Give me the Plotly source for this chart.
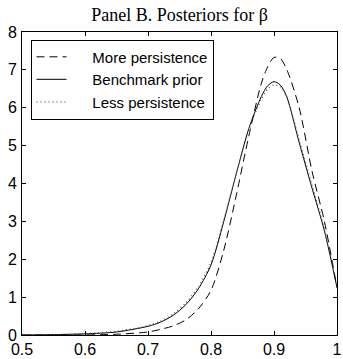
import plotly.graph_objects as go

beta = [0.50, 0.55, 0.60, 0.65, 0.70, 0.72, 0.74, 0.76, 0.78, 0.80, 0.82, 0.84,
        0.86, 0.88, 0.89, 0.90, 0.91, 0.92, 0.94, 0.96, 0.98, 1.00]

more_persistence = [0.00, 0.00, 0.00, 0.02, 0.08, 0.15, 0.24, 0.40, 0.69, 1.18, 2.22, 3.68,
                    5.25, 6.65, 7.08, 7.33, 7.30, 7.02, 6.00, 4.35, 3.00, 1.25]
benchmark_prior = [0.00, 0.01, 0.03, 0.08, 0.23, 0.34, 0.52, 0.80, 1.22, 1.85, 2.98, 4.25,
                   5.45, 6.30, 6.58, 6.69, 6.60, 6.30, 5.08, 3.90, 2.75, 1.25]
less_persistence = [0.00, 0.01, 0.04, 0.10, 0.25, 0.37, 0.56, 0.85, 1.28, 1.92, 3.02, 4.26,
                    5.42, 6.22, 6.50, 6.60, 6.55, 6.30, 5.15, 3.98, 2.80, 1.25]

series_names = ["More persistence", "Benchmark prior", "Less persistence"]
x_ticks = [0.5, 0.6, 0.7, 0.8, 0.9, 1.0]
x_tick_labels = ["0.5", "0.6", "0.7", "0.8", "0.9", "1"]
y_ticks = [0, 1, 2, 3, 4, 5, 6, 7, 8]

pad = "\u00a0" * 5

fig = go.Figure()
fig.add_trace(go.Scatter(x=beta, y=more_persistence, mode="lines", name=pad + series_names[0],
                         line=dict(color="black", width=1, dash="8px,5px", shape="spline", smoothing=0.8)))
fig.add_trace(go.Scatter(x=beta, y=benchmark_prior, mode="lines", name=pad + series_names[1],
                         line=dict(color="black", width=1, shape="spline", smoothing=0.8)))
fig.add_trace(go.Scatter(x=beta, y=less_persistence, mode="lines", name=pad + series_names[2],
                         line=dict(color="#555555", width=1.2, dash="1px,3px", shape="spline", smoothing=0.8)))

axis_common = dict(showgrid=False, zeroline=False, showline=True, linecolor="black", linewidth=1,
                   mirror="allticks", ticks="inside", ticklen=4, tickcolor="black",
                   ticklabeloverflow="allow",
                   tickfont=dict(family="Liberation Sans, Arial", size=16, color="black"))

fig.update_layout(
    width=343, height=359,
    margin=dict(l=22, r=1, t=32, b=20),
    paper_bgcolor="white", plot_bgcolor="white",
    title=dict(text="Panel B. Posteriors for β", x=0.5, xref="paper", xanchor="center",
               y=1 - 15 / 359, yref="container", yanchor="middle",
               font=dict(family="Liberation Serif, Times New Roman", size=18, color="black")),
    xaxis=dict(range=[0.5, 1.0], tickvals=x_ticks, ticktext=x_tick_labels, ticklabelstandoff=0, **axis_common),
    yaxis=dict(range=[0, 8], tickvals=y_ticks, ticklabelstandoff=1, **axis_common),
    legend=dict(x=0.027, y=0.975, xanchor="left", yanchor="top",
                bgcolor="white", bordercolor="black", borderwidth=1,
                font=dict(family="Liberation Sans, Arial", size=15, color="black"),
                tracegroupgap=0, itemwidth=30),
    showlegend=True,
)

fig.write_html("out.html")
